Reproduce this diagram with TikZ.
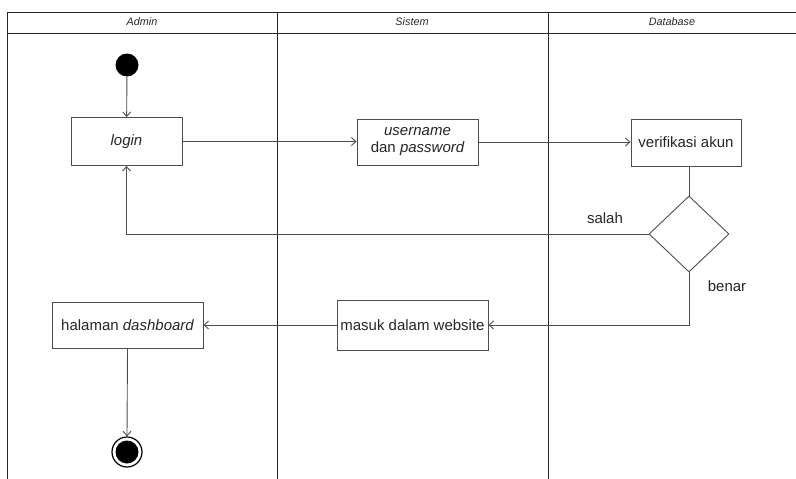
\documentclass[tikz,border=0pt]{standalone}
\usepackage{fontspec}
\setmainfont{Liberation Sans}
\usetikzlibrary{arrows.meta,shapes.geometric}
\definecolor{ink}{HTML}{262626}
\definecolor{wire}{HTML}{4D4D4D}
\begin{document}
\begin{tikzpicture}[x=1pt,y=-1pt,
  lane/.style={draw=black!85,line width=0.8pt},
  head/.style={font=\fontsize{10.8}{12}\selectfont\itshape,text=ink},
  act/.style={draw=wire,line width=0.9pt,fill=white,inner sep=1pt,align=center,text=ink,font=\fontsize{15}{17}\selectfont},
  arr/.style={draw=wire,line width=0.9pt,-{Straight Barb[length=4.5pt,width=8pt]}},
  plain/.style={draw=wire,line width=0.9pt},
  lbl/.style={text=ink,font=\fontsize{15}{17}\selectfont}]
\useasboundingbox (0,0) rectangle (796,479);
% swimlane frame
\draw[lane] (7,479) -- (7,12) -- (796,12);
\draw[lane] (7,33) -- (796,33);
\draw[lane] (277,12) -- (277,479);
\draw[lane] (548,12) -- (548,479);
\node[head] (hAdmin) at (142,22) {Admin};
\node[head] (hSistem) at (412,22) {Sistem};
\node[head] (hDb) at (672,22) {Database};
% nodes
\node[circle,fill=black,inner sep=0,minimum size=23pt] (start) at (127,65) {};
\node[act,minimum width=111pt,minimum height=48pt] (login) at (126.5,141.5) {\itshape login};
\node[act,minimum width=121pt,minimum height=46pt] (user) at (417.5,142) {\itshape username\\dan \itshape password};
\node[act,minimum width=110pt,minimum height=47pt] (verif) at (686,142.5) {verifikasi akun};
\node[diamond,draw=wire,line width=0.9pt,inner sep=0,minimum width=80pt,minimum height=76pt] (dec) at (689,234) {};
\node[act,minimum width=151pt,minimum height=50pt] (masuk) at (412.5,325) {masuk dalam website};
\node[act,minimum width=151pt,minimum height=46pt] (dash) at (127.5,325) {halaman \itshape dashboard};
\node[circle,draw=black,line width=1.2pt,inner sep=0,minimum size=30pt] (end) at (127,452) {};
\node[circle,fill=black,inner sep=0,minimum size=23pt] (endin) at (end.center) {};
% connectors
\draw[arr] (start) -- (login);
\draw[arr] (login.east) -- (user.west |- login.east);
\draw[arr] (user.east) -- (verif.west |- user.east);
\draw[plain] (verif.south -| dec.north) -- (dec.north);
\draw[arr] (dec.west) -| (login.south);
\draw[arr] (dec.south) |- (masuk.east);
\draw[arr] (masuk.west) -- (dash.east);
\draw[arr] (dash.south) -- (end.north);
% labels
\node[lbl] (lSalah) at (605,218) {salah};
\node[lbl] (lBenar) at (727,286) {benar};
\end{tikzpicture}
\end{document}
